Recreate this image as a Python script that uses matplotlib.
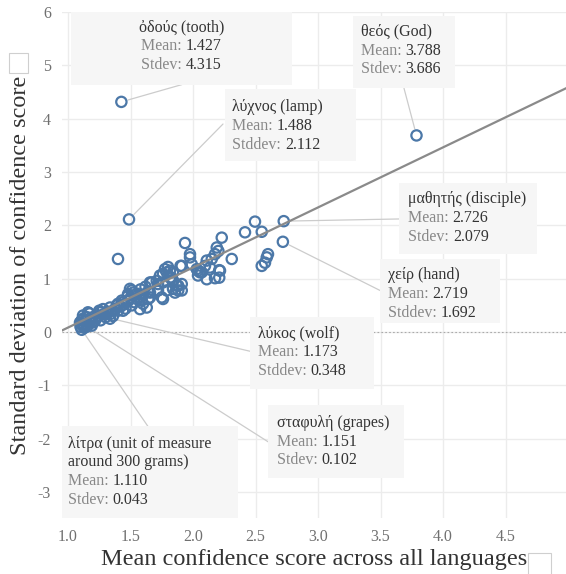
import matplotlib
matplotlib.use("Agg")
import matplotlib.pyplot as plt
from matplotlib.offsetbox import TextArea, HPacker, VPacker, AnnotationBbox
from matplotlib.patches import Rectangle

plt.rcParams['font.family'] = ['Liberation Serif', 'DejaVu Serif']
plt.rcParams['axes.unicode_minus'] = False

# ---- data ----
mean_scores = [
    2.496, 2.55, 2.416, 2.23, 1.936, 2.19, 2.203, 2.176, 1.976, 1.976,
    1.91, 1.99, 2.15, 2.11, 2.31, 2.60, 2.59, 2.576, 2.55, 2.04,
    2.07, 2.11, 2.176, 2.21, 2.136, 2.096, 2.03, 1.40, 2.216, 2.21,
    1.90, 2.056, 2.04, 1.76, 1.736, 1.79, 1.816, 1.842, 1.87, 1.882,
    1.856, 1.76, 1.91, 1.76, 1.72, 1.656, 1.51, 1.48, 1.55, 1.60,
    1.576, 1.51, 1.43, 1.40, 1.36, 1.31, 1.28, 1.256, 1.20, 1.16,
    1.12, 1.096, 1.12, 1.176, 1.216, 1.336, 1.44, 1.656, 1.63, 1.80,
    1.84, 1.71, 1.67, 1.84, 1.91, 1.75, 1.776, 1.816, 1.83, 1.882,
    1.79, 1.72, 1.656, 1.642, 1.59, 1.522, 1.496, 1.48, 1.576, 1.44,
    1.39, 1.336, 1.10, 1.12, 1.14, 1.13, 1.16, 1.18, 1.20, 1.22,
    1.24, 1.26, 1.28, 1.30, 1.32, 1.15, 1.12, 1.11, 1.19, 1.25,
    1.34, 1.38, 1.42, 1.45, 1.48, 1.50, 1.53, 1.55, 1.58, 1.62,
    1.64, 1.60, 1.46, 1.40, 1.36,
]
std_scores = [
    2.07, 1.88, 1.87, 1.77, 1.67, 1.585, 1.52, 1.46, 1.46, 1.40,
    1.24, 1.27, 1.37, 1.34, 1.37, 1.46, 1.40, 1.30, 1.24, 1.15,
    1.12, 0.99, 1.01, 1.16, 1.21, 1.24, 1.18, 1.37, 1.15, 1.02,
    1.24, 1.12, 1.06, 1.09, 1.06, 1.12, 1.02, 0.96, 0.87, 0.78,
    0.74, 0.62, 0.90, 0.93, 0.90, 0.93, 0.78, 0.71, 0.62, 0.53,
    0.43, 0.50, 0.59, 0.53, 0.40, 0.34, 0.43, 0.37, 0.28, 0.37,
    0.25, 0.18, 0.12, 0.18, 0.21, 0.25, 0.40, 0.65, 0.46, 1.22,
    1.12, 0.96, 0.93, 0.81, 0.78, 0.65, 1.18, 1.15, 1.02, 0.87,
    0.78, 0.78, 0.74, 0.62, 0.59, 0.74, 0.81, 0.68, 0.65, 0.56,
    0.50, 0.46, 0.10, 0.15, 0.20, 0.08, 0.13, 0.22, 0.18, 0.26,
    0.30, 0.22, 0.33, 0.28, 0.38, 0.28, 0.31, 0.22, 0.12, 0.40,
    0.34, 0.44, 0.48, 0.52, 0.58, 0.64, 0.56, 0.72, 0.80, 0.85,
    0.76, 0.70, 0.44, 0.40, 0.30,
]

# annotated words
word_names = ["ὀδούς (tooth)", "λύχνος (lamp)", "θεός (God)", "μαθητής (disciple)",
              "χείρ (hand)", "λύκος (wolf)", "σταφυλή (grapes)",
              "λίτρα (unit of measure\naround 300 grams)"]
word_means = [1.427, 1.488, 3.788, 2.726, 2.719, 1.173, 1.151, 1.110]
word_stds = [4.315, 2.112, 3.686, 2.079, 1.692, 0.348, 0.102, 0.043]
word_std_labels = ["Stdev", "Stddev", "Stdev", "Stdev", "Stddev", "Stddev", "Stdev", "Stdev"]

trend_slope = 1.126
trend_intercept = -1.042

x_ticks = [1.0, 1.5, 2.0, 2.5, 3.0, 3.5, 4.0, 4.5]
y_ticks = [-3, -2, -1, 0, 1, 2, 3, 4, 5, 6]

# ---- layout of the label boxes: (x0, x1, y_top, y_bottom), text anchor, align, connector end
box_rects = [(1.024, 2.792, 6.2, 4.64), (2.256, 3.304, 4.55, 3.20), (3.28, 4.096, 5.92, 4.57),
             (3.648, 4.752, 2.80, 1.47), (3.496, 4.456, 1.37, 0.17), (2.456, 3.448, 0.29, -1.06),
             (2.60, 3.688, -1.37, -2.74), (0.944, 2.36, -1.77, -3.60)]
text_anchor = [(1.908, 5.86), (2.312, 4.36), (3.344, 5.78), (3.72, 2.64), (3.56, 1.22),
               (2.52, 0.13), (2.672, -1.55), (1.0, -1.94)]
text_align = ["center", "left", "left", "left", "left", "left", "left", "left"]
connector_end = [(1.912, 4.64), (2.24, 3.90), (3.688, 4.57), (3.648, 2.12), (3.496, 0.78),
                 (2.456, -0.36), (2.616, -2.08), (1.64, -1.77)]

blue = "#4C78A8"
dark = "#333333"
grey = "#888888"

fig = plt.figure(figsize=(5.66, 5.74), dpi=100)
ax = fig.add_axes([62 / 566, 56 / 574, 504 / 566, 506 / 574])
ax.set_xlim(0.952, 4.984)
ax.set_ylim(-3.486, 5.972)

for s in ax.spines.values():
    s.set_visible(False)
ax.set_xticks(x_ticks)
ax.set_xticklabels([f"{t:.1f}" for t in x_ticks])
ax.set_yticks(y_ticks)
ax.set_yticklabels([str(t) for t in y_ticks])
ax.tick_params(length=0, labelsize=11.5, labelcolor="#707070", pad=8)
ax.grid(True, color="#ececec", linewidth=1.0)
ax.set_axisbelow(True)
ax.axhline(0, color="#aaaaaa", linewidth=0.8, linestyle=(0, (1.5, 2)), zorder=1)

ax.scatter(mean_scores + word_means, std_scores + word_stds, s=55, facecolors="none",
           edgecolors=blue, linewidths=1.6, zorder=3)

xl = ax.get_xlim()
ax.plot(xl, [trend_slope * v + trend_intercept for v in xl], color="#8a8a8a",
        linewidth=1.6, zorder=4)

for i in range(len(word_names)):
    x0, x1, yt, yb = box_rects[i]
    ax.add_patch(Rectangle((x0, yb), x1 - x0, yt - yb, facecolor="#f6f6f6",
                           edgecolor="none", zorder=5, clip_on=True))
    ax.annotate("", xy=(word_means[i], word_stds[i]), xytext=connector_end[i],
                arrowprops=dict(arrowstyle="-", color="#cccccc", lw=0.9,
                                shrinkA=0, shrinkB=5), zorder=2)
    rows = []
    for name_line in word_names[i].split("\n"):
        rows.append(TextArea(name_line, textprops=dict(color=dark, fontsize=11.5)))
    for lab, val in [("Mean: ", word_means[i]), (word_std_labels[i] + ": ", word_stds[i])]:
        rows.append(HPacker(children=[TextArea(lab, textprops=dict(color=grey, fontsize=11.5)),
                                      TextArea(f"{val:.3f}", textprops=dict(color=dark, fontsize=11.5))],
                            sep=0, pad=0))
    pack = VPacker(children=rows, align=text_align[i], sep=2, pad=0)
    ab = AnnotationBbox(pack, text_anchor[i], frameon=False,
                        box_alignment=(0.5 if text_align[i] == "center" else 0, 1), zorder=6)
    ax.add_artist(ab)

ax.set_xlabel("Mean confidence score across all languages", fontsize=17.5, color=dark, labelpad=3)
ax.set_ylabel("Standard deviation of confidence score", fontsize=17.5, color=dark, labelpad=5)

# empty title placeholders next to the axis labels
fig.add_artist(Rectangle((528 / 566, 1 - 575 / 574), 23 / 566, 22 / 574, transform=fig.transFigure,
                         facecolor="none", edgecolor="#cfcfcf", linewidth=0.8))
fig.add_artist(Rectangle((9 / 566, 1 - 73 / 574), 19 / 566, 20 / 574, transform=fig.transFigure,
                         facecolor="none", edgecolor="#cfcfcf", linewidth=0.8))

fig.savefig("out.png", dpi=100)
